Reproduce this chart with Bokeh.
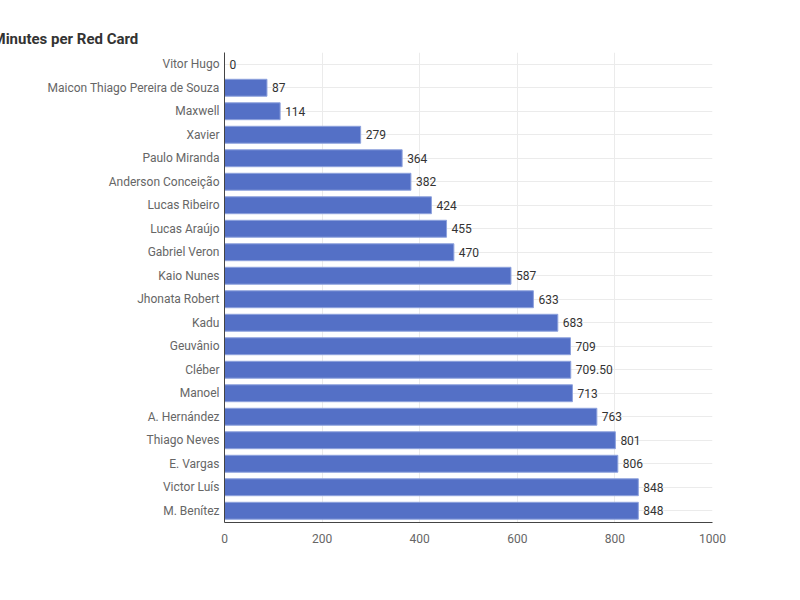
from bokeh.plotting import figure
from bokeh.models import ColumnDataSource, Legend, LegendItem, SingleIntervalTicker, LabelSet
from bokeh.core.properties import value
from bokeh.embed import file_html
from bokeh.resources import INLINE

players = ["Vitor Hugo", "Maicon Thiago Pereira de Souza", "Maxwell", "Xavier",
           "Paulo Miranda", "Anderson Conceição", "Lucas Ribeiro", "Lucas Araújo",
           "Gabriel Veron", "Kaio Nunes", "Jhonata Robert", "Kadu", "Geuvânio",
           "Cléber", "Manoel", "A. Hernández", "Thiago Neves", "E. Vargas",
           "Victor Luís", "M. Benítez"]
minutes = [0, 87, 114, 279, 364, 382, 424, 455, 470, 587, 633, 683, 709,
           709.5, 713, 763, 801, 806, 848, 848]
labels = ["0", "87", "114", "279", "364", "382", "424", "455", "470", "587", "633",
          "683", "709", "709.50", "713", "763", "801", "806", "848", "848"]

src = ColumnDataSource(dict(player=players, minutes=minutes, label=labels))

p = figure(y_range=list(reversed(players)), x_range=(0, 1000),
           frame_width=488, frame_height=470,
           output_backend="svg", toolbar_location=None,
           min_border_left=224, min_border_right=72, min_border_top=52,
           min_border_bottom=62)

p.title.text = "Minutes per Red Card"
p.title.text_font = "Roboto"
p.title.text_font_size = "15px"
p.title.text_color = "#333333"
p.title.offset = -232

r = p.hbar(y="player", right="minutes", height=0.72, source=src,
           fill_color="#5470c6", line_color="#8ea2dd", line_width=1)

p.add_layout(LabelSet(x="minutes", y="player", text="label", source=src,
                      x_offset=5, y_offset=0, text_baseline="middle",
                      text_font=value("Roboto"), text_font_size="12px",
                      text_color="#333333"))

p.xaxis.ticker = SingleIntervalTicker(interval=200)
p.xaxis.minor_tick_line_color = None
p.xaxis.major_tick_line_color = None
p.xaxis.axis_line_color = "#444444"
p.yaxis.axis_line_color = "#444444"
p.yaxis.major_tick_out = 0
p.yaxis.major_tick_in = 0
for ax in (p.xaxis, p.yaxis):
    ax.major_label_text_font = "Roboto"
    ax.major_label_text_font_size = "12px"
    ax.major_label_text_color = "#666666"
p.xgrid.grid_line_color = "#ebebeb"
p.ygrid.grid_line_color = "#ebebeb"
p.outline_line_color = None

legend = Legend(items=[LegendItem(label="Minutes per Red Card", renderers=[r])],
                orientation="horizontal", location="center",
                label_text_font="Roboto", label_text_font_size="12px",
                label_text_color="#333333", border_line_color=None,
                glyph_width=24, glyph_height=14, margin=6, padding=4)
p.add_layout(legend, "below")

open("out.html", "w").write(file_html(p, INLINE))
